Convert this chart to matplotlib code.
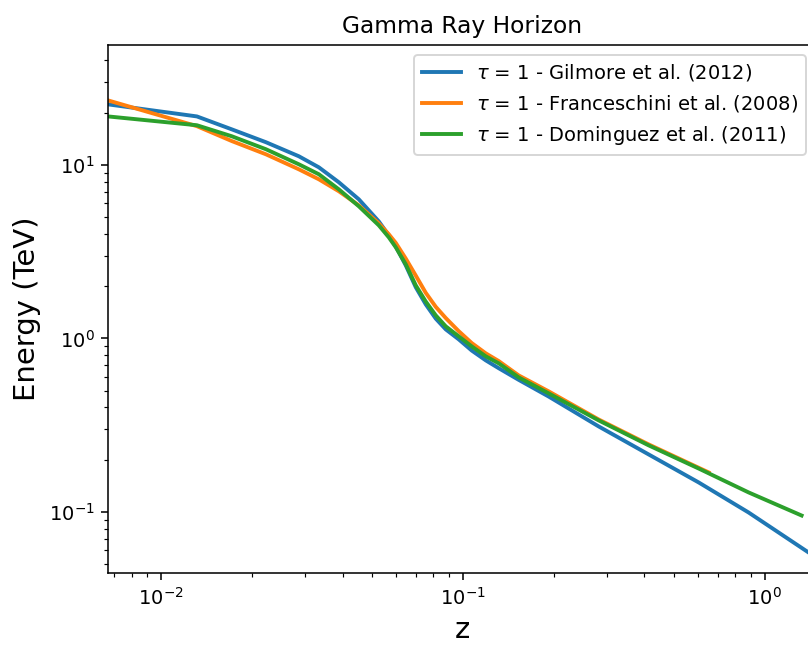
"""Gamma ray horizon: tau = 1 energy vs redshift for three EBL models."""

import matplotlib

matplotlib.use("Agg")
import matplotlib.pyplot as plt

# Gilmore et al. (2012)
Z_GILMORE = [0.00668, 0.01316, 0.01718, 0.02227, 0.02864, 0.03337, 0.03886,
             0.04525, 0.05271, 0.05689, 0.05999, 0.06477, 0.06989, 0.07542,
             0.08139, 0.08784, 0.0970, 0.1071, 0.1192, 0.1316, 0.1532,
             0.1927, 0.2820, 0.4129, 0.6045, 0.8850, 1.464]
E_GILMORE = [22.3, 19.0, 16.0, 13.5, 11.2, 9.67, 7.93,
             6.33, 4.72, 3.92, 3.39, 2.63, 1.97, 1.57,
             1.30, 1.127, 0.987, 0.851, 0.747, 0.673, 0.577,
             0.462, 0.311, 0.2145, 0.148, 0.0993, 0.0554]

# Franceschini et al. (2008)
Z_FRANCESCHINI = [0.00668, 0.01316, 0.01718, 0.02227, 0.02864, 0.03337,
                  0.03886, 0.04525, 0.05271, 0.05689, 0.05999, 0.06477,
                  0.06989, 0.07542, 0.08139, 0.08784, 0.0970, 0.1071, 0.1192,
                  0.1316, 0.1532, 0.1927, 0.2820, 0.4129, 0.6525]
E_FRANCESCHINI = [23.5, 16.7, 13.7, 11.5, 9.42, 8.25,
                  7.04, 5.84, 4.60, 3.98, 3.55, 2.88,
                  2.30, 1.83, 1.52, 1.31, 1.10, 0.94, 0.82,
                  0.74, 0.612, 0.495, 0.341, 0.245, 0.169]

# Dominguez et al. (2011)
Z_DOMINGUEZ = [0.00668, 0.01316, 0.01718, 0.02227, 0.02864, 0.03337, 0.03886,
               0.04525, 0.05271, 0.05689, 0.05999, 0.06477, 0.06989, 0.07542,
               0.08139, 0.08784, 0.0970, 0.1071, 0.1192, 0.1316, 0.1532,
               0.1927, 0.2820, 0.4129, 0.6045, 0.8850, 1.326]
E_DOMINGUEZ = [19.0, 16.9, 14.6, 12.3, 10.07, 8.82, 7.22,
               5.77, 4.48, 3.82, 3.35, 2.67, 2.02, 1.63,
               1.357, 1.173, 1.027, 0.899, 0.788, 0.718, 0.596,
               0.482, 0.337, 0.242, 0.178, 0.1296, 0.0954]

LABELS = [
    r"$\tau$ = 1 - Gilmore et al. (2012)",
    r"$\tau$ = 1 - Franceschini et al. (2008)",
    r"$\tau$ = 1 - Dominguez et al. (2011)",
]
COLORS = ["#1f77b4", "#ff7f0e", "#2ca02c"]


def plot_horizon() -> None:
    fig = plt.figure(figsize=(808 / 140, 645 / 140), dpi=140)
    # axes run slightly past the right edge of the canvas, as in the reference
    ax = fig.add_axes([108 / 808, 72 / 645, 708 / 808, 528 / 645])

    series = [
        (Z_GILMORE, E_GILMORE),
        (Z_FRANCESCHINI, E_FRANCESCHINI),
        (Z_DOMINGUEZ, E_DOMINGUEZ),
    ]
    for (z, e), label, color in zip(series, LABELS, COLORS):
        ax.plot(z, e, color=color, linewidth=2, label=label)

    ax.set_xscale("log")
    ax.set_yscale("log")
    ax.set_xlim(0.00668, 1.48)
    ax.set_ylim(0.0445, 49)

    ax.set_title("Gamma Ray Horizon", fontsize=12)
    ax.set_xlabel("z", fontsize=15)
    ax.set_ylabel("Energy (TeV)", fontsize=15)
    ax.legend(loc="upper right", fontsize=10)

    fig.savefig("out.png", dpi=140)


if __name__ == "__main__":
    plot_horizon()
